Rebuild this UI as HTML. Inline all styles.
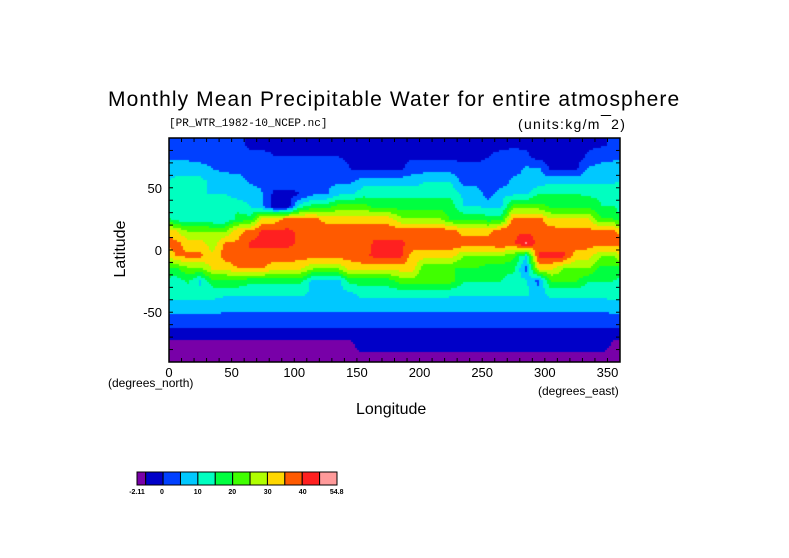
<!DOCTYPE html>
<html><head><meta charset="utf-8">
<style>
body{margin:0;background:#fff;width:789px;height:558px;overflow:hidden;font-family:"Liberation Sans",sans-serif;}
#wrap{position:relative;width:789px;height:558px;}
.t{position:absolute;white-space:nowrap;color:#000;}
canvas{position:absolute;}
</style></head><body>
<div id="wrap">
<div class="t" style="left:108px;top:88px;font-size:21px;letter-spacing:1.1px;">Monthly Mean Precipitable Water for entire atmosphere</div>
<div class="t" style="left:169px;top:118px;font-size:11px;font-family:'Liberation Mono',monospace;">[PR_WTR_1982-10_NCEP.nc]</div>
<div class="t" style="left:518px;top:116px;font-size:14px;letter-spacing:1.3px;">(units:kg/m<span style="text-decoration:overline">&nbsp;&nbsp;</span>2)</div>
<div class="t" style="left:83px;top:240px;font-size:16px;transform:rotate(-90deg);width:76px;text-align:center;">Latitude</div>
<div class="t" style="left:108px;top:376px;font-size:12px;">(degrees_north)</div>
<div class="t" style="left:538px;top:384px;font-size:12px;">(degrees_east)</div>
<div class="t" style="left:356px;top:401px;font-size:16px;">Longitude</div>
<canvas id="map" width="451" height="224" style="left:169px;top:138px;"></canvas>
<svg id="ov" width="789" height="558" style="position:absolute;left:0;top:0;"></svg>
</div>
<script>
const lons=[5,15,25,35,45,55,65,75,85,95,105,115,125,135,145,155,165,175,185,195,205,215,225,235,245,255,265,275,285,295,305,315,325,335,345,355];
const lats=[85,75,65,55,45,35,25,15,5,-5,-15,-25,-35,-45,-55,-65,-75,-85];
const values=[
[7,7,7,7,6,6,4,4,4,4,4,4,4,4,4,4,4,4,4,4,4,4,4,4,4,4,4,4,4,4,3,3,3,4,4,6],
[9,9,8,8,8,7,6,6,5,5,5,5,5,5,4,4,4,4,4,4,4,4,4,4,4,5,6,7,6,3,3,3,3,6,8,9],
[12,12,12,10,9,8,8,8,7,7,7,7,7,7,5,4,4,4,4,8,8,8,8,6,6,6,6,7,11,11,4,4,4,11,12,12],
[17,17,17,13,13,13,9,9,8,8,8,8,9,9,9,13,13,13,13,13,15,15,15,8,8,6,6,12,12,12,14,14,14,14,14,14],
[20,20,15,15,15,13,13,10,3,3,5,9,9,14,14,18,18,18,18,18,18,18,18,14,14,7,14,14,14,20,20,20,20,19,19,19],
[16,16,16,18,18,18,15,10,1,2,18,22,22,27,27,27,23,23,23,23,23,23,23,15,15,14,14,27,27,27,24,24,24,24,20,20],
[17,17,17,15,15,22,22,37,37,42,42,42,38,38,38,38,38,38,31,31,31,31,24,24,24,22,22,42,42,42,35,35,35,35,25,25],
[36,30,30,30,30,38,42,46,46,46,44,44,44,43,43,43,43,43,43,43,43,43,43,38,38,38,44,44,44,43,43,42,42,42,41,41],
[42,38,38,32,41,41,46,46,46,46,44,44,44,43,43,43,46,46,46,43,43,43,43,43,43,43,44,44,51,43,43,43,43,42,42,42],
[40,41,41,36,43,43,43,43,43,43,42,42,42,42,42,44,46,46,46,37,37,37,37,30,30,30,30,26,15,46,46,46,37,37,30,30],
[24,29,29,36,36,40,40,40,36,36,36,30,30,30,37,37,37,37,37,37,25,25,25,25,25,22,22,22,8,36,36,30,30,30,23,23],
[17,21,14,24,24,24,21,21,21,21,21,13,13,13,22,22,22,22,27,27,27,27,27,20,20,20,20,16,16,8,25,25,25,20,20,20],
[16,16,16,16,16,16,16,16,16,16,16,14,14,14,14,17,17,17,17,17,17,17,16,16,16,16,16,16,16,13,17,17,17,17,17,17],
[14,14,14,14,12,12,12,12,12,12,12,12,12,12,12,12,12,12,12,12,12,12,12,12,12,12,12,12,12,12,12,12,12,12,12,13],
[8,8,8,8,8,8,8,8,8,8,8,8,8,8,8,8,8,8,8,8,8,8,8,8,8,8,8,8,8,8,8,8,8,8,8,8],
[4,4,4,4,4,4,4,4,4,4,4,4,4,4,4,4,4,4,4,4,4,4,4,4,4,4,4,4,4,4,4,4,4,4,4,4],
[-1,-1,-1,-1,-1,-1,-1,-1,-1,-1,-1,-1,-1,-1,-1,3,3,3,3,3,3,3,3,3,3,3,3,3,3,3,3,3,3,3,3,-1],
[-1,-1,-1,-1,-1,-1,-1,-1,-1,-1,-1,-1,-1,-1,-1,-1,-1,-1,-1,-1,-1,-1,-1,-1,-1,-1,-1,-1,-1,-1,-1,-1,-1,-1,-1,-1]];
const levels=[-2.11,0,5,10,15,20,25,30,35,40,45,50,54.8];
const levelLabels=["-2.11","0","10","20","30","40","54.8"];
const colors=["#7800a8","#0000c8","#0040ff","#00c8ff","#00ffc0","#00ff40","#40ff00","#b0ff00","#ffd700","#ff5a00","#ff2020","#ff9a9a"];
const xTicks=[0,50,100,150,200,250,300,350];
const yTicks=[50,0,-50];

const X0=169,X1=620,Y0=138,Y1=362;
const xs=lon=>X0+(lon/360)*(X1-X0);
const ys=lat=>Y0+((90-lat)/180)*(Y1-Y0);
function colorOf(v){for(let i=colors.length-1;i>=0;i--){if(v>=levels[i])return colors[i];}return colors[0];}
function sample(lon,lat){
  let fi=(lon-5)/10; let fj=(85-lat)/10;
  fj=Math.max(0,Math.min(lats.length-1,fj));
  let j0=Math.floor(fj),j1=Math.min(lats.length-1,j0+1),ty=fj-j0;
  let i0=Math.floor(fi),tx=fi-i0;
  const n=lons.length;
  let a=((i0%n)+n)%n,b=(a+1)%n;
  const v0=values[j0][a]*(1-tx)+values[j0][b]*tx;
  const v1=values[j1][a]*(1-tx)+values[j1][b]*tx;
  return v0*(1-ty)+v1*ty;
}
const cv=document.getElementById('map'),ctx=cv.getContext('2d');
const W=cv.width,H=cv.height;
for(let py=0;py<H;py+=2){for(let px=0;px<W;px+=2){
  const lon=(px+1)/W*360,lat=90-(py+1)/H*180;
  ctx.fillStyle=colorOf(sample(lon,lat));ctx.fillRect(px,py,2,2);
}}
const NS='http://www.w3.org/2000/svg',ov=document.getElementById('ov');
function mk(t,a){const e=document.createElementNS(NS,t);for(const k in a)e.setAttribute(k,a[k]);ov.appendChild(e);return e;}
const frame=mk('rect',{x:X0,y:Y0,width:X1-X0,height:Y1-Y0,fill:'none',stroke:'#000','stroke-width':1.5});


for(let lon=10;lon<360;lon+=10){mk('line',{x1:xs(lon),x2:xs(lon),y1:Y1,y2:Y1-4,stroke:'#000'});mk('line',{x1:xs(lon),x2:xs(lon),y1:Y0,y2:Y0+4,stroke:'#000'});}
for(let lat=-80;lat<90;lat+=10){mk('line',{x1:X0,x2:X0+4,y1:ys(lat),y2:ys(lat),stroke:'#000'});mk('line',{x1:X1,x2:X1-4,y1:ys(lat),y2:ys(lat),stroke:'#000'});}
xTicks.forEach(v=>{const t=mk('text',{x:xs(v),y:377,'font-size':13,'text-anchor':'middle','font-family':'Liberation Sans, sans-serif'});t.textContent=v;

});
yTicks.forEach(v=>{const t=mk('text',{x:162,y:ys(v)+5,'font-size':13,'text-anchor':'end','font-family':'Liberation Sans, sans-serif'});t.textContent=v;

});
const cbX0=137,cbX1=337,cbY=472,cbH=13;
const segW=(cbX1-145.7)/11;
for(let i=0;i<colors.length;i++){
  const x=i===0?cbX0:145.7+(i-1)*segW, w=i===0?145.7-cbX0:segW;
  const r=mk('rect',{x:x,y:cbY,width:w,height:cbH,fill:colors[i],stroke:'#000','stroke-width':1});
  
  
}
const lblX=[137,162,197.7,232.3,267.7,302.7,336.7];
levelLabels.forEach((s,i)=>{const t=mk('text',{x:lblX[i],y:494,'font-size':7,'font-weight':'bold','text-anchor':'middle','font-family':'Liberation Sans, sans-serif'});t.textContent=s;

});
</script>
</body></html>
